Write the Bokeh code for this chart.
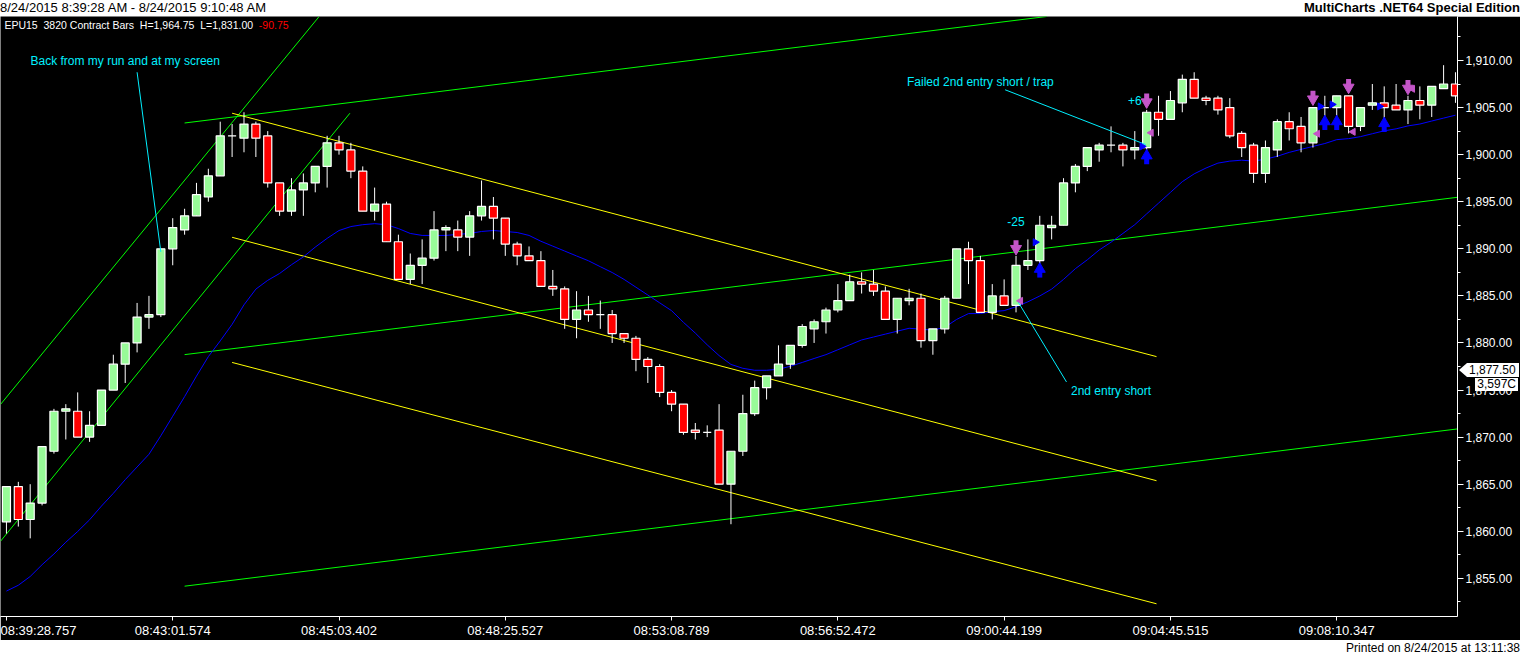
import math
from bokeh.plotting import figure
from bokeh.models import (Range1d, LinearAxis, SingleIntervalTicker, FixedTicker,
                          NumeralTickFormatter, Label, ColumnDataSource, Div)
from bokeh.layouts import column
from bokeh.embed import file_html
from bokeh.resources import INLINE

# ---------------- data ----------------
bar_index = list(range(123))
opens = [1861.0, 1864.75, 1861.25, 1863.0, 1868.5, 1872.75, 1872.75, 1870.0, 1871.25, 1875.0,
         1877.75, 1880.0, 1882.75, 1883.0, 1890.0, 1892.0, 1893.5, 1895.5, 1897.75, 1902.0,
         1901.75, 1903.25, 1902.0, 1897.0, 1894.0, 1896.25, 1897.0, 1898.75, 1901.25, 1900.5,
         1898.25, 1894.0, 1894.75, 1890.75, 1886.75, 1888.25, 1889.0, 1892.0, 1892.0, 1891.25,
         1893.5, 1894.5, 1893.25, 1890.5, 1889.25, 1888.75, 1886.0, 1885.75, 1882.5, 1883.5,
         1883.0, 1883.0, 1881.0, 1880.5, 1878.25, 1877.5, 1874.75, 1873.5, 1870.75, 1870.5,
         1870.75, 1865.0, 1868.5, 1872.5, 1875.25, 1876.5, 1877.75, 1879.75, 1881.5, 1882.25,
         1883.5, 1884.5, 1886.5, 1886.25, 1885.5, 1882.5, 1884.5, 1884.75, 1880.25, 1881.5,
         1884.75, 1890.0, 1888.75, 1883.25, 1885.0, 1884.0, 1888.25, 1888.75, 1892.25, 1892.5,
         1897.0, 1898.75, 1900.5, 1901.0, 1901.0, 1900.5, 1900.75, 1904.5, 1903.75, 1905.5,
         1908.0, 1906.0, 1906.0, 1905.0, 1902.25, 1901.0, 1898.0, 1900.5, 1903.5, 1903.0,
         1901.25, 1905.0, 1905.0, 1906.25, 1903.0, 1905.25, 1905.5, 1905.25, 1904.75, 1905.75,
         1905.25, 1907.0, 1907.5]
highs = [1864.75, 1865.25, 1865.0, 1869.0, 1873.0, 1873.5, 1874.75, 1872.75, 1875.0, 1878.75,
         1880.0, 1884.25, 1885.0, 1890.0, 1893.25, 1894.25, 1897.0, 1898.5, 1903.5, 1903.25,
         1904.5, 1903.5, 1902.5, 1897.0, 1897.5, 1898.0, 1898.75, 1902.0, 1902.0, 1901.25,
         1898.75, 1896.5, 1895.0, 1891.5, 1889.5, 1891.0, 1894.0, 1892.5, 1893.0, 1894.0,
         1897.25, 1895.5, 1893.25, 1890.75, 1890.25, 1889.75, 1887.75, 1886.0, 1885.5, 1885.0,
         1884.5, 1883.5, 1881.0, 1880.75, 1878.5, 1877.75, 1875.0, 1873.5, 1871.5, 1871.25,
         1873.5, 1868.5, 1874.5, 1876.0, 1876.5, 1879.75, 1879.75, 1882.0, 1882.5, 1883.75,
         1886.25, 1887.25, 1887.5, 1887.75, 1886.0, 1884.75, 1885.75, 1885.25, 1881.5, 1885.0,
         1890.0, 1890.75, 1889.25, 1886.25, 1886.75, 1889.25, 1891.0, 1893.5, 1893.5, 1897.5,
         1899.0, 1900.75, 1901.25, 1903.0, 1901.25, 1902.5, 1904.75, 1906.25, 1906.75, 1908.5,
         1908.75, 1906.25, 1906.25, 1906.0, 1902.5, 1901.25, 1901.5, 1903.75, 1904.5, 1904.0,
         1905.0, 1906.25, 1906.25, 1906.25, 1905.0, 1907.5, 1907.25, 1907.5, 1906.25, 1907.25,
         1907.25, 1909.5, 1908.75]
lows = [1859.75, 1860.5, 1859.25, 1862.75, 1868.25, 1869.75, 1870.0, 1869.5, 1871.25, 1875.0,
        1875.75, 1879.0, 1881.5, 1882.75, 1888.25, 1891.5, 1893.5, 1895.0, 1897.75, 1899.75,
        1900.25, 1899.75, 1896.5, 1893.5, 1893.5, 1893.5, 1896.0, 1896.5, 1900.0, 1897.5,
        1894.0, 1893.0, 1890.75, 1886.75, 1886.25, 1886.25, 1888.75, 1889.75, 1889.75, 1889.25,
        1893.0, 1891.0, 1889.25, 1888.25, 1888.75, 1886.0, 1885.0, 1881.5, 1880.5, 1882.25,
        1881.5, 1880.0, 1880.0, 1877.0, 1875.75, 1874.25, 1872.75, 1870.25, 1869.75, 1870.0,
        1865.0, 1860.75, 1868.0, 1872.25, 1874.0, 1876.5, 1877.25, 1879.5, 1880.0, 1881.0,
        1883.25, 1884.5, 1885.25, 1885.0, 1882.5, 1881.0, 1884.0, 1879.5, 1878.75, 1881.0,
        1884.75, 1886.25, 1883.25, 1882.5, 1884.0, 1883.25, 1887.75, 1888.25, 1891.0, 1892.5,
        1896.0, 1898.25, 1899.25, 1900.25, 1898.75, 1899.5, 1900.5, 1902.0, 1903.75, 1904.5,
        1906.0, 1905.25, 1904.25, 1901.75, 1899.75, 1897.0, 1897.0, 1899.75, 1901.5, 1900.25,
        1900.75, 1904.0, 1904.0, 1902.25, 1902.5, 1904.75, 1903.75, 1904.75, 1903.25, 1903.75,
        1904.0, 1907.0, 1905.5]
closes = [1864.75, 1861.25, 1863.0, 1869.0, 1872.75, 1873.0, 1870.0, 1871.25, 1875.0, 1877.75,
          1880.0, 1882.75, 1883.0, 1890.0, 1892.25, 1893.5, 1895.75, 1897.75, 1902.0, 1902.0,
          1903.25, 1901.75, 1897.0, 1894.0, 1896.25, 1897.0, 1898.75, 1901.25, 1900.5, 1898.25,
          1894.0, 1894.75, 1890.75, 1886.75, 1888.25, 1889.0, 1892.0, 1892.25, 1891.25, 1893.5,
          1894.5, 1893.25, 1890.5, 1889.25, 1888.75, 1886.0, 1885.75, 1882.5, 1883.5, 1883.0,
          1883.0, 1881.0, 1880.5, 1878.25, 1877.5, 1874.75, 1873.5, 1870.5, 1870.5, 1870.5,
          1865.0, 1868.5, 1872.5, 1875.25, 1876.5, 1877.75, 1879.75, 1881.75, 1882.25, 1883.5,
          1884.5, 1886.5, 1886.25, 1885.5, 1882.5, 1884.75, 1884.75, 1880.25, 1881.5, 1884.75,
          1890.0, 1888.75, 1883.25, 1885.0, 1884.0, 1888.25, 1888.75, 1892.5, 1892.5, 1897.0,
          1898.75, 1900.75, 1901.0, 1901.0, 1900.5, 1900.75, 1904.5, 1903.75, 1905.75, 1908.0,
          1906.0, 1905.75, 1904.75, 1902.0, 1900.75, 1898.0, 1900.75, 1903.5, 1902.75, 1901.25,
          1905.0, 1905.0, 1906.25, 1903.0, 1905.0, 1905.5, 1905.0, 1904.75, 1905.75, 1905.25,
          1907.25, 1907.5, 1906.25]
ma_values = [1853.65, 1854.27, 1855.20, 1856.45, 1857.59, 1858.84, 1859.98, 1861.22, 1862.68, 1864.03,
             1865.48, 1866.83, 1868.18, 1870.15, 1872.22, 1874.30, 1876.48, 1878.55, 1880.22, 1881.98,
             1884.05, 1885.72, 1886.65, 1887.38, 1888.31, 1889.14, 1890.18, 1891.11, 1891.94, 1892.36,
             1892.56, 1892.67, 1892.56, 1892.15, 1891.63, 1891.42, 1891.42, 1891.42, 1891.53, 1891.63,
             1891.84, 1891.94, 1891.84, 1891.73, 1891.42, 1890.80, 1890.28, 1889.76, 1889.24, 1888.73,
             1888.10, 1887.48, 1886.75, 1885.92, 1885.09, 1884.26, 1883.43, 1882.19, 1881.05, 1879.80,
             1878.66, 1877.72, 1877.31, 1877.10, 1877.10, 1877.21, 1877.52, 1877.93, 1878.35, 1878.76,
             1879.28, 1879.80, 1880.32, 1880.63, 1880.94, 1881.25, 1881.56, 1881.46, 1881.36, 1881.67,
             1882.50, 1883.12, 1883.12, 1883.33, 1883.43, 1883.85, 1884.37, 1884.99, 1885.72, 1886.75,
             1887.89, 1888.83, 1889.87, 1890.70, 1891.63, 1892.56, 1893.71, 1894.85, 1895.99, 1897.13,
             1897.96, 1898.58, 1899.10, 1899.31, 1899.41, 1899.31, 1899.52, 1899.83, 1900.24, 1900.56,
             1900.87, 1901.18, 1901.59, 1901.70, 1901.91, 1902.22, 1902.53, 1902.74, 1903.05, 1903.25,
             1903.57, 1903.88, 1904.19]

time_tick_bars = [0, 14, 28, 42, 56, 70, 84, 98, 112]
time_tick_labels = ["08:39:28.757", "08:43:01.574", "08:45:03.402", "08:48:25.527", "08:53:08.789",
                    "08:56:52.472", "09:00:44.199", "09:04:45.515", "09:08:10.347"]

# drawn trend lines (bar index, price)
green_x0 = [-0.5, -0.5, 15.0, 15.0, 15.0]
green_y0 = [1873.47, 1858.94, 1903.36, 1878.76, 1854.17]
green_x1 = [26.33, 28.92, 87.58, 122.17, 122.17]
green_y1 = [1914.67, 1904.40, 1914.67, 1895.47, 1870.87]
yellow_x0 = [19.0, 19.0, 19.0]
yellow_y0 = [1904.40, 1891.22, 1877.93]
yellow_x1 = [96.83, 96.83, 96.83]
yellow_y1 = [1878.55, 1865.37, 1852.30]
note_x0 = [11.0, 84.08, 85.17]
note_y0 = [1908.75, 1906.89, 1884.37]
note_x1 = [13.0, 95.92, 89.25]
note_y1 = [1889.66, 1901.07, 1875.86]
note_texts = ["Back from my run and at my screen", "Failed 2nd entry short / trap",
              "2nd entry short", "-25", "+6"]
note_text_x = [10.0, 82.0, 93.0, 85.0, 95.0]
note_text_y = [1909.9, 1907.72, 1874.92, 1892.88, 1905.75]

# trade markers
sell_arrow_x = [85, 96, 110, 113, 118]
sell_arrow_y = [1890.28, 1905.85, 1906.16, 1907.41, 1907.30]
buy_arrow_x = [87, 96, 111, 112, 116]
buy_arrow_y = [1887.58, 1899.62, 1903.25, 1903.25, 1903.05]
entry_x = [87, 96, 111, 112, 116]
entry_y = [1890.70, 1900.87, 1905.12, 1905.33, 1905.12]
exit_x = [85, 96, 110, 113, 118]
exit_y = [1884.47, 1902.32, 1902.22, 1902.42, 1906.99]

last_price = 1877.50
last_price_text = "1,877.50"
volume_text = "3,597C"

# ---------------- styling ----------------
FONT = "Liberation Sans"
UP = "#98FB98"
DOWN = "#FF0000"
CYAN = "#00F0FF"
MAG = "#C455C8"
BLUE = "#0000FF"

W = 1520
TITLE_H = 16
FOOT_H = 12
FIG_H = 652 - TITLE_H - FOOT_H
AXIS_R = 63
AXIS_B = 21
FRAME_H = FIG_H - AXIS_B
X0, X1 = -0.5, 122.17
Y0, Y1 = 1850.95, 1914.67

p = figure(width=W, height=FIG_H, x_range=Range1d(X0, X1), y_range=Range1d(Y0, Y1),
           output_backend="svg", toolbar_location=None,
           x_axis_type=None, y_axis_type=None,
           background_fill_color="black", border_fill_color="black",
           min_border_left=0, min_border_top=0, min_border_right=AXIS_R, min_border_bottom=AXIS_B)
p.outline_line_color = None
p.grid.visible = False

yaxis = LinearAxis(ticker=SingleIntervalTicker(interval=5, num_minor_ticks=2),
                   formatter=NumeralTickFormatter(format="0,0.00"))
yaxis.axis_line_color = "white"
yaxis.major_tick_line_color = "white"
yaxis.minor_tick_line_color = "white"
yaxis.major_tick_in = 0
yaxis.major_tick_out = 6
yaxis.minor_tick_in = 0
yaxis.minor_tick_out = 3
yaxis.major_label_text_color = "white"
yaxis.major_label_text_font = FONT
yaxis.major_label_text_font_size = "12px"
yaxis.major_label_standoff = 2
p.add_layout(yaxis, "right")

xaxis = LinearAxis(ticker=FixedTicker(ticks=time_tick_bars, minor_ticks=[]),
                   major_label_overrides={t: s for t, s in zip(time_tick_bars, time_tick_labels)})
xaxis.axis_line_color = "white"
xaxis.major_tick_line_color = "white"
xaxis.minor_tick_line_color = None
xaxis.major_tick_in = 0
xaxis.major_tick_out = 4
xaxis.major_label_text_color = "white"
xaxis.major_label_text_font = FONT
xaxis.major_label_text_font_size = "13px"
xaxis.major_label_text_align = "left"
xaxis.major_label_standoff = 2
p.add_layout(xaxis, "below")

# trend lines
p.segment(green_x0, green_y0, green_x1, green_y1, line_color="#00FF00", line_width=1)
p.segment(yellow_x0, yellow_y0, yellow_x1, yellow_y1, line_color="#FFFF00", line_width=1)

# moving average
p.line(bar_index, ma_values, line_color=BLUE, line_width=1)

# candles
src = ColumnDataSource(dict(
    x=bar_index, high=highs, low=lows,
    top=[max(o, c) for o, c in zip(opens, closes)],
    bottom=[min(o, c) for o, c in zip(opens, closes)],
    color=[UP if c >= o else DOWN for o, c in zip(opens, closes)],
))
p.segment("x", "low", "x", "high", source=src, line_color="white", line_width=1)
p.vbar(x="x", width=0.68, top="top", bottom="bottom", source=src,
       fill_color="color", line_color="white", line_width=1.2)

# annotation lines & texts
p.segment(note_x0, note_y0, note_x1, note_y1, line_color=CYAN, line_width=1)
for t, tx, ty in zip(note_texts, note_text_x, note_text_y):
    p.add_layout(Label(x=tx, y=ty, text=t, text_align="center", text_baseline="middle",
                       text_color=CYAN, text_font=FONT, text_font_size="12px"))

# trade markers
py = (Y1 - Y0) / FRAME_H
p.scatter(sell_arrow_x, [y - 2.5 * py for y in sell_arrow_y], marker="inverted_triangle",
          size=11, fill_color=MAG, line_color=MAG)
p.rect(sell_arrow_x, [y + 3 * py for y in sell_arrow_y], width=5, height=6,
       width_units="screen", height_units="screen", fill_color=MAG, line_color=None)
p.scatter(buy_arrow_x, [y + 2.5 * py for y in buy_arrow_y], marker="triangle",
          size=11, fill_color=BLUE, line_color=BLUE)
p.rect(buy_arrow_x, [y - 3 * py for y in buy_arrow_y], width=5, height=6,
       width_units="screen", height_units="screen", fill_color=BLUE, line_color=None)
p.scatter([x - 0.38 for x in entry_x], entry_y, marker="triangle", angle=-math.pi / 2,
          size=7, fill_color=BLUE, line_color=BLUE)
p.scatter([x + 0.38 for x in exit_x], exit_y, marker="triangle", angle=math.pi / 2,
          size=7, fill_color=MAG, line_color=MAG)

# header info inside the chart
p.add_layout(Label(x=X0 + 0.33, y=Y1 - 0.95,
                   text="EPU15\u00a0\u00a03820 Contract Bars\u00a0\u00a0H=1,964.75\u00a0\u00a0L=1,831.00",
                   text_baseline="middle", text_color="white", text_font=FONT, text_font_size="10.5px"))
p.add_layout(Label(x=X0 + 21.75, y=Y1 - 0.95, text="-90.75",
                   text_baseline="middle", text_color="#FF0000", text_font=FONT, text_font_size="10.5px"))

# last-price marker boxes over the price axis (positioned from the price scale)
frame_right = W - AXIS_R
marker_cy = TITLE_H + (Y1 - last_price) / (Y1 - Y0) * FRAME_H
rel = marker_cy - (TITLE_H + FIG_H)
overlay = (
    '<div style="position:absolute;left:%dpx;top:%dpx;width:0;height:0;'
    'border-top:7px solid transparent;border-bottom:7px solid transparent;border-right:8px solid white;"></div>'
    '<div style="position:absolute;left:%dpx;top:%dpx;height:14px;padding:0 3px 0 2px;background:white;'
    'color:black;font-family:\'Liberation Sans\';font-size:12px;line-height:14px;text-align:right;">%s</div>'
    '<div style="position:absolute;right:%dpx;top:%dpx;height:13px;padding:0 2px;background:white;'
    'color:black;font-family:\'Liberation Sans\';font-size:12px;line-height:13px;">%s</div>'
) % (frame_right + 2, round(rel - 7),
     frame_right + 10, round(rel - 7), last_price_text,
     W - (frame_right + 61), round(rel + 8), volume_text)

title_div = Div(text=(
    '<div style="position:relative;width:%dpx;height:%dpx;background:white;'
    'font-family:\'Liberation Sans\';color:black;">'
    '<span style="position:absolute;left:0;top:0;font-size:13px;line-height:%dpx;">'
    '8/24/2015 8:39:28 AM - 8/24/2015 9:10:48 AM</span>'
    '<span style="position:absolute;right:0;top:0;font-size:13px;font-weight:bold;line-height:%dpx;">'
    'MultiCharts .NET64 Special Edition</span></div>') % (W, TITLE_H, TITLE_H, TITLE_H),
    width=W, height=TITLE_H, margin=(0, 0, 0, 0))
foot_div = Div(text=(
    '<div style="position:relative;width:%dpx;height:%dpx;background:white;text-align:right;'
    'font-family:\'Liberation Sans\';font-size:12px;line-height:%dpx;color:black;">'
    'Printed on 8/24/2015 at 13:11:38%s</div>') % (W, FOOT_H, FOOT_H, overlay),
    width=W, height=FOOT_H, margin=(0, 0, 0, 0))

layout = column(title_div, p, foot_div, spacing=0)
open("out.html", "w").write(file_html(layout, INLINE))
